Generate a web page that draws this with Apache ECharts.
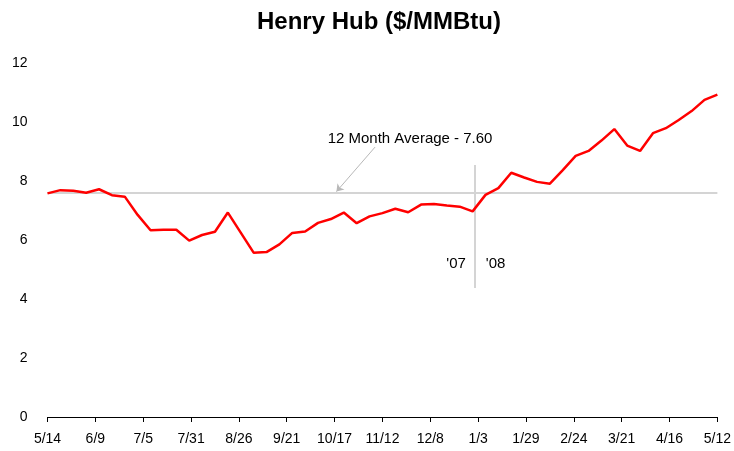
<!DOCTYPE html>
<html>
<head>
<meta charset="utf-8">
<script src="https://cdn.jsdelivr.net/npm/echarts@6/dist/echarts.min.js"></script>
<style>
html,body{margin:0;padding:0;background:#fff;}
#chart{width:734px;height:451px;}
</style>
</head>
<body>
<div id="chart"></div>
<script>
// Weekly Henry Hub prices, week of 2007-05-14 through 2008-05-12
const weekStart = '2007-05-14';
const prices = [
  7.58, 7.69, 7.67, 7.60, 7.72, 7.52, 7.47, 6.85, 6.33, 6.35,
  6.35, 5.98, 6.17, 6.28, 6.93, 6.25, 5.57, 5.59, 5.85, 6.24,
  6.29, 6.58, 6.71, 6.93, 6.57, 6.80, 6.91, 7.06, 6.94, 7.20,
  7.22, 7.17, 7.13, 6.97, 7.53, 7.76, 8.28, 8.12, 7.97, 7.91,
  8.37, 8.85, 9.02, 9.37, 9.76, 9.20, 9.02, 9.62, 9.79, 10.07,
  10.37, 10.75, 10.93
];
const tickLabels = ['5/14','6/9','7/5','7/31','8/26','9/21','10/17','11/12','12/8','1/3','1/29','2/24','3/21','4/16','5/12'];
const tickStepDays = 26;
const averageValue = 7.60;
const averageLabel = '12 Month Average - 7.60';
const yearBreakDate = '2008-01-01';
const yearLabels = ["'07", "'08"];

const dayMs = 86400000;
const t0 = Date.parse(weekStart + 'T00:00:00Z');
const dayOf = s => Math.round((Date.parse(s + 'T00:00:00Z') - t0) / dayMs);
const breakDay = dayOf(yearBreakDate);
const lineData = prices.map((p, i) => [i * 7, p]);

const FONT = "'Liberation Sans Narrow','Liberation Sans',Arial,sans-serif";

const chart = echarts.init(document.getElementById('chart'));
chart.setOption({
  animation: false,
  backgroundColor: '#fff',
  title: {
    text: 'Henry Hub ($/MMBtu)',
    left: 252,
    top: 5,
    textStyle: {fontFamily: "'Liberation Sans',Arial,sans-serif", fontSize: 24, fontWeight: 'bold', color: '#000'}
  },
  grid: {left: 47.5, right: 14, top: 63, bottom: 34},
  xAxis: {
    type: 'value',
    min: 0,
    max: tickStepDays * (tickLabels.length - 1),
    interval: tickStepDays,
    axisLine: {show: true, onZero: false, lineStyle: {color: '#000', width: 1}},
    axisTick: {show: true, length: 5, lineStyle: {color: '#000'}},
    splitLine: {show: false},
    axisLabel: {
      formatter: v => tickLabels[Math.round(v / tickStepDays)] || '',
      fontFamily: FONT, fontSize: 14, color: '#000', margin: 15
    }
  },
  yAxis: {
    type: 'value',
    min: 0, max: 12, interval: 2,
    axisLine: {show: false},
    axisTick: {show: false},
    splitLine: {show: false},
    axisLabel: {fontFamily: FONT, fontSize: 14, color: '#000', margin: 20}
  },
  series: [
    {
      type: 'line',
      data: [],
      silent: true,
      markLine: {
        silent: true,
        symbol: ['none', 'none'],
        label: {show: false},
        lineStyle: {color: '#d4d4d4', width: 2, type: 'solid'},
        data: [
          {yAxis: averageValue},
          [{coord: [breakDay, 4.37]}, {coord: [breakDay, 8.54]}]
        ]
      }
    },
    {
      type: 'line',
      data: [],
      silent: true,
      markLine: {
        silent: true,
        symbol: ['none', 'arrow'],
        symbolSize: 7,
        label: {show: false},
        lineStyle: {color: '#b8b8b8', width: 1, type: 'solid'},
        data: [[{coord: [178, 9.15]}, {coord: [157, 7.64]}]]
      },
      markPoint: {
        silent: true,
        symbol: 'circle',
        symbolSize: 0,
        label: {show: true, position: 'inside', fontFamily: "'Liberation Sans',Arial,sans-serif", fontSize: 15, color: '#000'},
        data: [
          {coord: [197, 9.42], value: averageLabel, label: {formatter: averageLabel}},
          {coord: [222, 5.19], value: yearLabels[0], label: {formatter: yearLabels[0]}},
          {coord: [243.5, 5.19], value: yearLabels[1], label: {formatter: yearLabels[1]}}
        ]
      }
    },
    {
      type: 'line',
      data: lineData,
      showSymbol: false,
      symbol: 'none',
      lineStyle: {color: '#ff0000', width: 2.5},
      z: 5
    }
  ]
});
</script>
</body>
</html>
